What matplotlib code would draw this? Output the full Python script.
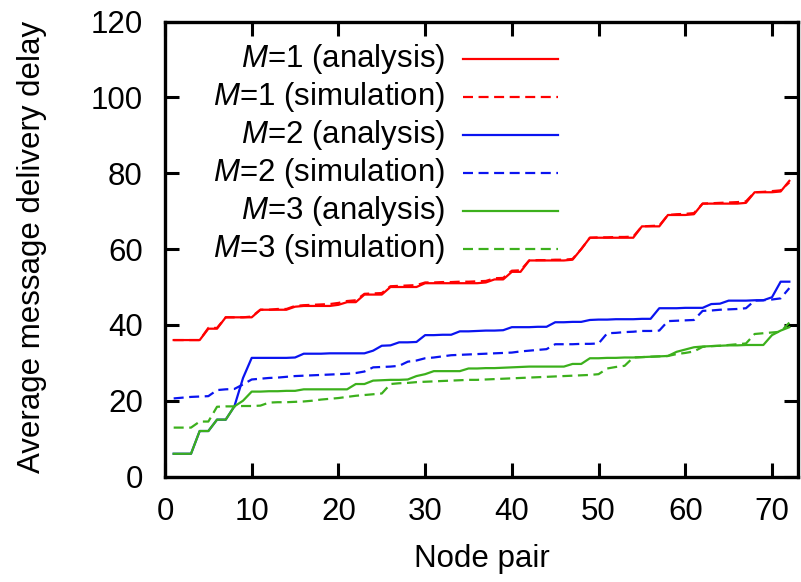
import matplotlib
matplotlib.use("Agg")
import matplotlib.pyplot as plt
from matplotlib.lines import Line2D

plt.rcParams['font.family'] = ['Liberation Sans', 'DejaVu Sans']
plt.rcParams['mathtext.fontset'] = 'custom'
plt.rcParams['mathtext.rm'] = 'Liberation Sans'
plt.rcParams['mathtext.it'] = 'Liberation Sans:italic'

node_pair = list(range(1, 73))

m1_analysis = [36, 36, 36, 36, 39, 39, 42, 42, 42, 42,
               44, 44, 44, 44, 44.8, 45, 45, 45, 45, 45.3,
               46, 46, 48, 48, 48, 50, 50, 50, 50, 51,
               51, 51, 51, 51, 51, 51, 51.2, 52, 52, 54,
               54, 57, 57, 57, 57, 57, 57.2, 60, 63, 63,
               63, 63, 63, 63, 66, 66, 66, 69, 69, 69,
               69.2, 72, 72, 72, 72, 72, 72.2, 75, 75, 75,
               75.2, 78]
m1_simulation = [36, 36, 36, 36, 39.2, 39.2, 42, 42, 42, 42.2,
                 44, 44, 44.2, 44.2, 45, 45.2, 45.3, 45.4, 45.5, 45.8,
                 46.3, 46.5, 48.2, 48.3, 48.4, 50.2, 50.3, 50.4, 50.5, 51.2,
                 51.2, 51.3, 51.3, 51.4, 51.4, 51.5, 51.6, 52.3, 52.4, 54.3,
                 54.4, 57, 57.1, 57.1, 57.2, 57.2, 57.4, 60, 63, 63.1,
                 63.1, 63.2, 63.2, 63.3, 66, 66.1, 66.2, 69, 69.2, 69.3,
                 69.5, 72, 72.1, 72.2, 72.3, 72.4, 72.6, 75, 75.1, 75.3,
                 75.5, 77.6]

m2_analysis = [6, 6, 6, 12, 12, 15, 15, 18.5, 26, 31.3,
               31.3, 31.3, 31.3, 31.3, 31.4, 32.4, 32.4, 32.4, 32.5, 32.5,
               32.5, 32.5, 32.5, 33.2, 34.5, 34.6, 35.4, 35.4, 35.5, 37.3,
               37.3, 37.4, 37.4, 38.3, 38.3, 38.4, 38.5, 38.5, 38.6, 39.4,
               39.4, 39.4, 39.5, 39.5, 40.7, 40.7, 40.8, 40.8, 41.3, 41.4,
               41.4, 41.5, 41.5, 41.5, 41.6, 41.6, 44.4, 44.4, 44.4, 44.5,
               44.5, 44.5, 45.5, 45.6, 46.4, 46.4, 46.4, 46.5, 46.5, 47.3,
               51.4, 51.4]
m2_simulation = [20.6, 20.8, 21.0, 21.1, 21.2, 22.8, 23.0, 23.1, 24.3, 25.6,
                 25.8, 26.0, 26.1, 26.3, 26.5, 26.6, 26.7, 26.8, 26.9, 27.0,
                 27.1, 27.3, 27.7, 28.8, 28.9, 29.0, 29.2, 30.3, 30.6, 31.2,
                 31.4, 31.7, 32.0, 32.1, 32.2, 32.3, 32.4, 32.5, 32.6, 32.7,
                 33.0, 33.2, 33.4, 33.6, 34.9, 34.9, 34.9, 35.0, 35.0, 35.1,
                 37.8, 37.9, 38.1, 38.2, 38.4, 38.4, 38.5, 41.0, 41.1, 41.2,
                 41.3, 43.7, 43.8, 44.0, 44.1, 44.2, 44.4, 46.4, 46.5, 46.7,
                 47.0, 49.7]

m3_analysis = [6, 6, 6, 12, 12, 15, 15, 18.5, 20, 22.4,
               22.4, 22.5, 22.5, 22.6, 22.6, 23, 23, 23, 23, 23,
               23, 24.4, 24.4, 25.3, 25.4, 25.5, 25.5, 25.6, 26.5, 27,
               27.8, 27.8, 27.8, 27.8, 28.5, 28.5, 28.6, 28.6, 28.7, 28.8,
               28.9, 29, 29, 29, 29, 29, 29.7, 29.7, 31.2, 31.2,
               31.3, 31.3, 31.4, 31.4, 31.5, 31.6, 31.7, 31.8, 32.9, 33.5,
               34.1, 34.3, 34.4, 34.5, 34.6, 34.6, 34.7, 34.7, 34.7, 37.3,
               38.5, 39.4]
m3_simulation = [12.9, 12.9, 12.9, 14.5, 14.5, 18.4, 18.5, 18.5, 18.6, 18.6,
                 18.7, 19.5, 19.6, 19.6, 19.7, 19.8, 20.0, 20.3, 20.5, 20.7,
                 21.0, 21.3, 21.5, 21.7, 21.9, 24.4, 24.6, 24.7, 24.9, 25.0,
                 25.1, 25.2, 25.3, 25.4, 25.5, 25.5, 25.6, 25.7, 25.8, 25.9,
                 26.0, 26.1, 26.2, 26.3, 26.4, 26.5, 26.6, 26.7, 26.8, 27.0,
                 28.5, 28.9, 29.2, 31.4, 31.5, 31.6, 31.7, 31.8, 32.3, 32.6,
                 33.0, 34.2, 34.4, 34.5, 34.7, 34.9, 35.1, 37.6, 37.8, 38.0,
                 38.2, 40.6]

labels = ['$M$=1 (analysis)', '$M$=1 (simulation)',
          '$M$=2 (analysis)', '$M$=2 (simulation)',
          '$M$=3 (analysis)', '$M$=3 (simulation)']
x_ticks = [0, 10, 20, 30, 40, 50, 60, 70]
y_ticks = [0, 20, 40, 60, 80, 100, 120]

red = '#ff0000'
blue = '#0a14f0'
green = '#3cb01c'
dash = (0, (4.5, 2.5))
FS = 22.5

fig = plt.figure(figsize=(8.01, 5.82), dpi=100)
ax = fig.add_axes([165 / 801, 105.5 / 582, 633 / 801, 454.8 / 582])

series = [(m1_analysis, red, '-'), (m1_simulation, red, dash),
          (m2_analysis, blue, '-'), (m2_simulation, blue, dash),
          (m3_analysis, green, '-'), (m3_simulation, green, dash)]
for (vals, c, ls), lab in zip(series, labels):
    ax.plot(node_pair, vals, color=c, linestyle=ls, linewidth=1.6, label=lab)

ax.set_xlim(0, 73)
ax.set_ylim(0, 120)
ax.set_xticks(x_ticks)
ax.set_yticks(y_ticks)
ax.tick_params(axis='both', which='major', direction='in', length=10, width=2.2,
               labelsize=FS, top=True, right=True)
ax.tick_params(axis='x', pad=15)
ax.tick_params(axis='y', pad=16)
for s in ax.spines.values():
    s.set_linewidth(2.4)

ax.set_xlabel('Node pair', fontsize=FS)
ax.set_ylabel('Average message delivery delay', fontsize=FS)
ax.xaxis.set_label_coords(0.5, -0.148)
ax.yaxis.set_label_coords(-0.186, 0.505)

# gnuplot-style key: right-aligned labels with line samples on the right
x_text, x0, x1 = 0.442, 0.471, 0.621
y_top, dy = 0.918, 0.0835
for i, ((vals, c, ls), lab) in enumerate(zip(series, labels)):
    yy = y_top - i * dy
    ax.text(x_text, yy, lab, transform=ax.transAxes, ha='right', va='center',
            fontsize=FS)
    ax.add_artist(Line2D([x0, x1], [yy, yy], transform=ax.transAxes,
                         color=c, linestyle=ls, linewidth=1.6))

fig.savefig('out.png', dpi=100)
